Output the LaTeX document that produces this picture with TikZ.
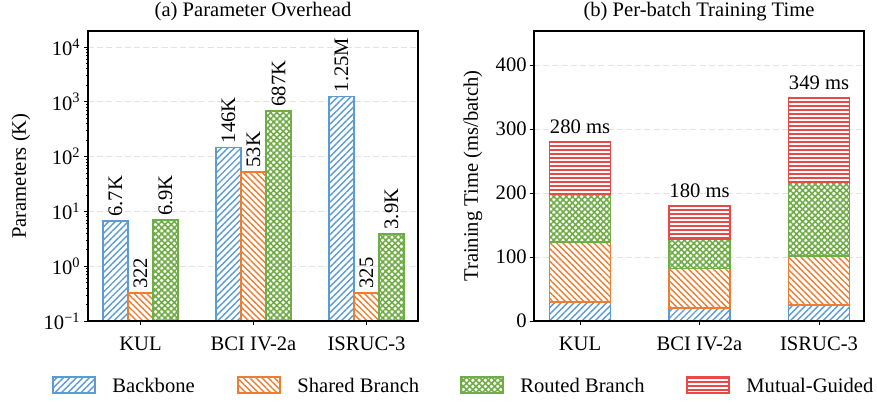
\documentclass[tikz,border=0pt]{standalone}
\usepackage{fontspec}
\setmainfont{Liberation Serif}
\usetikzlibrary{patterns.meta}
\definecolor{cB}{RGB}{91,155,213}
\definecolor{cS}{RGB}{237,125,49}
\definecolor{cR}{RGB}{112,173,71}
\definecolor{cM}{RGB}{232,72,72}
\newcommand\myfs{\fontsize{10.3pt}{12pt}\selectfont}
\tikzset{
  every node/.style={font=\myfs},
  barbase/.style={line width=0.8pt, preaction={fill=white}},
  bbone/.style={barbase, draw=cB, pattern={Lines[angle=45,distance=2.3pt,line width=0.7pt]}, pattern color=cB},
  bshared/.style={barbase, draw=cS, pattern={Lines[angle=-45,distance=2.2pt,line width=0.7pt]}, pattern color=cS},
  brouted/.style={barbase, draw=cR, pattern={Hatch[angle=45,distance=2.2pt,line width=0.8pt]}, pattern color=cR},
  bmutual/.style={barbase, draw=cM, pattern={Lines[angle=0,distance=2pt,line width=0.65pt]}, pattern color=cM},
  frame/.style={line width=0.75pt, draw=black},
  gridl/.style={gray!22, line width=0.45pt, dash pattern=on 3pt off 1.6pt},
  tick/.style={line width=0.45pt},
}
\begin{document}
\begin{tikzpicture}[x=0.5pt,y=-0.5pt]
\useasboundingbox (0,0) rectangle (877,402);

% ---------------- (a) Parameter Overhead ----------------
\node[anchor=base] (ta) at (253,16.5) {(a) Parameter Overhead};
% grid
\foreach \d in {0,...,4} {
  \pgfmathsetmacro\yy{321-(\d+1)*54.8}
  \draw[gridl] (88,\yy) -- (418,\yy);
}
% bars
\foreach \cx/\v/\st/\lab/\nm in {
  115.5/6.7/bbone/6.7K/la1, 140.5/0.322/bshared/322/la2, 165.5/6.9/brouted/6.9K/la3,
  228.5/146/bbone/146K/lb1, 253.5/53/bshared/53K/lb2, 278.5/687/brouted/687K/lb3,
  341.5/1250/bbone/1.25M/lc1, 366.5/0.325/bshared/325/lc2, 391.5/3.9/brouted/3.9K/lc3} {
  \pgfmathsetmacro\yt{321-(log10(\v)+1)*54.8}
  \draw[\st] (\cx-12.5,321) rectangle (\cx+12.5,\yt);
  \node[rotate=90,anchor=west,inner sep=0pt] (\nm) at (\cx,\yt-4) {\lab};
}
% frame
\draw[frame] (88,31) rectangle (418,321);
% major y ticks
\foreach \d/\lab in {-1/−1,0/0,1/1,2/2,3/3,4/4} {
  \pgfmathsetmacro\yy{321-(\d+1)*54.8}
  \draw[tick] (88,\yy) -- (84,\yy);
  \node[anchor=east,inner sep=0pt] (ya\d) at (81,\yy) {10\textsuperscript{\lab}};
}
% minor y ticks
\foreach \d in {-1,...,3} {
  \foreach \k in {2,...,9} {
    \pgfmathsetmacro\yy{321-(\d+1+log10(\k))*54.8}
    \draw[tick, line width=0.35pt] (88,\yy) -- (86,\yy);
  }
}
% x ticks
\foreach \cx/\lab/\nm in {140.5/KUL/xa1, 253.5/BCI IV-2a/xa2, 366.5/ISRUC-3/xa3} {
  \draw[tick] (\cx,321) -- (\cx,325);
  \node[anchor=base] (\nm) at (\cx,350) {\lab};
}
\node[rotate=90] (yla) at (21,176) {Parameters (K)};

% ---------------- (b) Per-batch Training Time ----------------
\node[anchor=base] (tb) at (699,16.5) {(b) Per-batch Training Time};
\foreach \v in {100,200,300,400} {
  \pgfmathsetmacro\yy{321-\v*0.64}
  \draw[gridl] (534,\yy) -- (864,\yy);
}
\foreach \cx/\a/\b/\c/\t/\nm in {580/30/123/198/280/sa, 699.5/20/82/128/180/sb, 819/25/102/217/349/sc} {
  \pgfmathsetmacro\ya{321-\a*0.64}
  \pgfmathsetmacro\yb{321-\b*0.64}
  \pgfmathsetmacro\yc{321-\c*0.64}
  \pgfmathsetmacro\yt{321-\t*0.64}
  \draw[bbone] (\cx-30.5,321) rectangle (\cx+30.5,\ya);
  \draw[bshared] (\cx-30.5,\ya) rectangle (\cx+30.5,\yb);
  \draw[brouted] (\cx-30.5,\yb) rectangle (\cx+30.5,\yc);
  \draw[bmutual] (\cx-30.5,\yc) rectangle (\cx+30.5,\yt);
  \node[anchor=base] (\nm) at (\cx,\yt-8.5) {\t\ ms};
}
\draw[frame] (534,31) rectangle (864,321);
\foreach \v in {0,100,200,300,400} {
  \pgfmathsetmacro\yy{321-\v*0.64}
  \draw[tick] (534,\yy) -- (530,\yy);
  \node[anchor=east,inner sep=0pt] (yb\v) at (527,\yy) {\v};
}
\foreach \cx/\lab/\nm in {580/KUL/xb1, 699.5/BCI IV-2a/xb2, 819/ISRUC-3/xb3} {
  \draw[tick] (\cx,321) -- (\cx,325);
  \node[anchor=base] (\nm) at (\cx,350) {\lab};
}
\node[rotate=90] (ylb) at (473,176) {Training Time (ms/batch)};

% ---------------- legend ----------------
\foreach \x/\st/\lab/\nm in {53/bbone/Backbone/lg1, 238/bshared/Shared Branch/lg2, 461/brouted/Routed Branch/lg3, 687/bmutual/Mutual-Guided/lg4} {
  \draw[\st] (\x,377) rectangle (\x+42,393);
  \node[anchor=base west,inner sep=0pt] (\nm) at (\x+59,392.5) {\lab};
}
\end{tikzpicture}
\end{document}
